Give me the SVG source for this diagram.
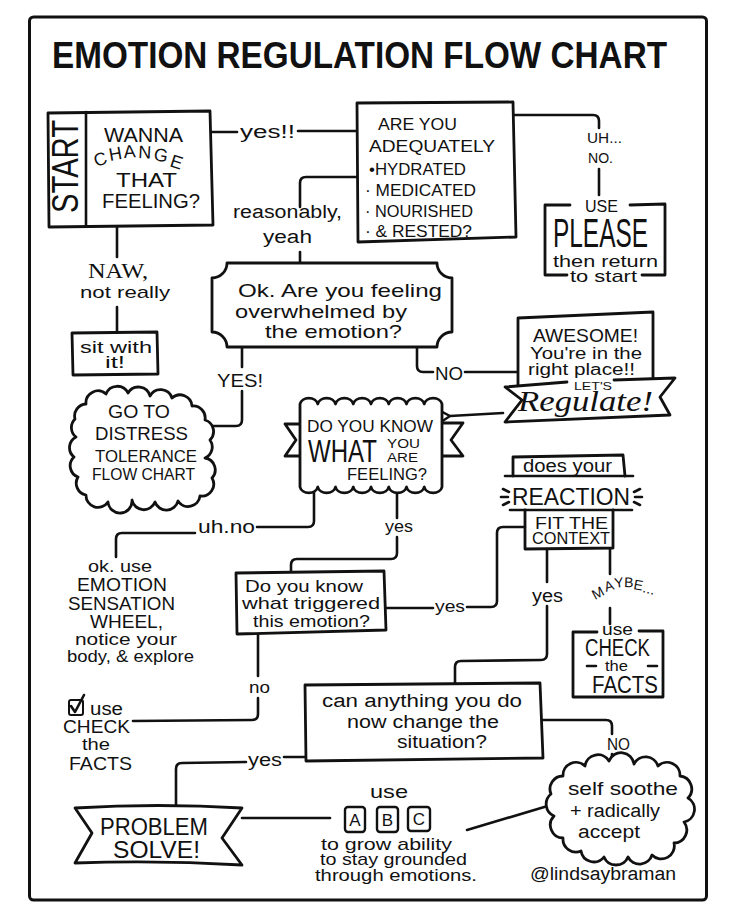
<svg xmlns="http://www.w3.org/2000/svg" width="736" height="911" viewBox="0 0 736 911" font-size="18">
<defs>
<style>
.ln{fill:none;stroke:#111;stroke-width:2.6;stroke-linecap:round;stroke-linejoin:round}
.bx{fill:#fff;stroke:#111;stroke-width:2.8;stroke-linejoin:round;stroke-linecap:round}
.ob{fill:none;stroke:#111;stroke-width:2.8;stroke-linejoin:round;stroke-linecap:round}
text{font-family:"Liberation Sans",Arial,sans-serif;fill:#111}
.s{font-family:"Liberation Serif","Times New Roman",serif}
.sc{font-family:"Liberation Serif","Times New Roman",serif;font-style:italic}
</style>
<marker id="ah" viewBox="0 0 14 14" refX="2" refY="7" markerWidth="14" markerHeight="14" orient="auto" markerUnits="userSpaceOnUse">
<path d="M12,1 L2,7 L12,13" fill="none" stroke="#111" stroke-width="2.4" stroke-linecap="round" stroke-linejoin="round"/>
</marker>
</defs>
<rect x="0" y="0" width="736" height="911" fill="#fff"/>
<rect x="29.5" y="17" width="677" height="883" rx="4" fill="none" stroke="#111" stroke-width="3"/>

<g id="title">
<text x="52" y="68" font-size="37" font-weight="bold" textLength="615" lengthAdjust="spacingAndGlyphs">EMOTION REGULATION FLOW CHART</text>
</g>

<g id="connectors">
<path class="ln" d="M212,132 L237,132"/>
<text x="240" y="138" font-size="18" textLength="55" lengthAdjust="spacingAndGlyphs">yes!!</text>
<path class="ln" d="M298,131 L358,131"/>
<path class="ln" d="M513,115 L593,115 Q599,115 599,121 L599,128"/>
<text x="587" y="143" font-size="15" textLength="35" lengthAdjust="spacingAndGlyphs">UH...</text>
<text x="588" y="163" font-size="15" textLength="25" lengthAdjust="spacingAndGlyphs">NO.</text>
<path class="ln" d="M599,169 L599,195"/>
<path class="ln" d="M358,177 L306,177 Q300,177 300,183 L300,207"/>
<text x="233" y="218" font-size="18" textLength="109" lengthAdjust="spacingAndGlyphs">reasonably,</text>
<text x="263" y="243" font-size="18" textLength="49" lengthAdjust="spacingAndGlyphs">yeah</text>
<path class="ln" d="M300,252 L300,263"/>
<path class="ln" d="M117,226 L117,257"/>
<text class="s" x="88" y="278" font-size="22" textLength="60" lengthAdjust="spacingAndGlyphs">NAW,</text>
<text x="80" y="298" font-size="17" textLength="90" lengthAdjust="spacingAndGlyphs">not really</text>
<path class="ln" d="M117,307 L117,332"/>
<path class="ln" d="M242,347 L242,367"/>
<text x="217" y="387" font-size="19" textLength="46" lengthAdjust="spacingAndGlyphs">YES!</text>
<path class="ln" d="M242,391 L242,420 Q242,426 236,426 L207,426"/>
<path class="ln" d="M417,347 L417,366 Q417,372 423,372 L433,372"/>
<text x="435" y="380" font-size="18" textLength="28" lengthAdjust="spacingAndGlyphs">NO</text>
<path class="ln" d="M465,372 L518,372"/>
<path class="ln" d="M503,413 L450,416" marker-end="url(#ah)"/>
<path class="ln" d="M314,490 L314,521 Q314,527 308,527 L257,527"/>
<text x="198" y="533" font-size="18" textLength="57" lengthAdjust="spacingAndGlyphs">uh.no</text>
<path class="ln" d="M195,533 L122,533 Q116,533 116,539 L116,557"/>
<path class="ln" d="M397,490 L397,518"/>
<text x="385" y="532" font-size="17" textLength="28" lengthAdjust="spacingAndGlyphs">yes</text>
<path class="ln" d="M397,537 L397,553 Q397,559 391,559 L297,559 Q291,559 291,565 L291,572"/>
<path class="ln" d="M385,608 L433,608"/>
<text x="435" y="612" font-size="17" textLength="30" lengthAdjust="spacingAndGlyphs">yes</text>
<path class="ln" d="M467,607 L491,607 Q497,607 497,601 L497,533 Q497,527 503,527 L525,527"/>
<path class="ln" d="M258,633 L258,676"/>
<text x="249" y="693" font-size="17" textLength="21" lengthAdjust="spacingAndGlyphs">no</text>
<path class="ln" d="M258,698 L258,714 Q258,720 252,720 L133,721"/>
<path class="ln" d="M547,549 L547,582"/>
<text x="532" y="602" font-size="18" textLength="31" lengthAdjust="spacingAndGlyphs">yes</text>
<path class="ln" d="M547,606 L547,654 Q547,660 541,660 L461,661 Q455,661 455,667 L455,684"/>
<path class="ln" d="M610,549 L610,574"/>
<text font-size="14" x="595 606 615 624 633 642 646 650" y="600 592 588 587 589 592 593 594" rotate="-28 -18 -8 2 10 14 14 14">MAYBE...</text>
<path class="ln" d="M610,608 L610,624"/>
<path class="ln" d="M305,757 L284,757"/>
<text x="248" y="766" font-size="18" textLength="34" lengthAdjust="spacingAndGlyphs">yes</text>
<path class="ln" d="M246,762 L182,763 Q176,763 176,769 L176,807"/>
<path class="ln" d="M542,720 L606,720 Q612,720 612,726 L612,734"/>
<text x="607" y="750" font-size="16" textLength="23" lengthAdjust="spacingAndGlyphs">NO</text>
<path class="ln" d="M612,754 L612,762"/>
<path class="ln" d="M242,818 L330,818"/>
<path class="ln" d="M467,830 L551,805"/>
</g>

<g id="start">
<path class="bx" d="M48,113 L210,111 L213,225 L49,227 Z"/>
<path class="ln" d="M86,112 L86,226"/>
<text transform="translate(78,166.5) rotate(-90)" x="0" y="0" text-anchor="middle" font-size="36" textLength="93" lengthAdjust="spacingAndGlyphs">START</text>
<text x="104" y="142" font-size="20" textLength="79" lengthAdjust="spacingAndGlyphs">WANNA</text>
<text font-size="18" x="96 110 124 138 153 169" y="167 161 158 158 160 166" rotate="-18 -10 -4 3 10 18">CHANGE</text>
<text x="116" y="187" font-size="20" textLength="61" lengthAdjust="spacingAndGlyphs">THAT</text>
<text x="102" y="208" font-size="20" textLength="98" lengthAdjust="spacingAndGlyphs">FEELING?</text>
</g>

<g id="adequately">
<path class="bx" d="M357,103 L513,102 L516,237 L358,242 Z"/>
<text x="378" y="130" font-size="17" textLength="79" lengthAdjust="spacingAndGlyphs">ARE YOU</text>
<text x="369" y="152" font-size="17" textLength="126" lengthAdjust="spacingAndGlyphs">ADEQUATELY</text>
<text x="369" y="175" font-size="17" textLength="97" lengthAdjust="spacingAndGlyphs">•HYDRATED</text>
<text x="365" y="196" font-size="17" textLength="111" lengthAdjust="spacingAndGlyphs">· MEDICATED</text>
<text x="365" y="217" font-size="17" textLength="108" lengthAdjust="spacingAndGlyphs">· NOURISHED</text>
<text x="365" y="237" font-size="17" textLength="107" lengthAdjust="spacingAndGlyphs">· &amp; RESTED?</text>
</g>

<g id="please">
<path class="ob" d="M570,205 L545,205 L545,275 L567,275"/>
<path class="ob" d="M630,205 L665,204 L665,275 L642,275"/>
<text x="585" y="212" font-size="16" textLength="33" lengthAdjust="spacingAndGlyphs">USE</text>
<text x="553" y="247" font-size="40" textLength="95" lengthAdjust="spacingAndGlyphs">PLEASE</text>
<text x="553" y="267" font-size="17" textLength="105" lengthAdjust="spacingAndGlyphs">then return</text>
<text x="570" y="282" font-size="17" textLength="67" lengthAdjust="spacingAndGlyphs">to start</text>
</g>

<g id="sitwith">
<path class="bx" d="M72,333 L157,332 L158,374 L73,375 Z"/>
<text x="80" y="353" font-size="16" textLength="72" lengthAdjust="spacingAndGlyphs">sit with</text>
<text x="105" y="368" font-size="16" textLength="20" lengthAdjust="spacingAndGlyphs">it!</text>
</g>

<g id="overwhelmed">
<path class="bx" d="M227,263 L437,263 A15,15 0 0 0 452,278 L452,332 A15,15 0 0 0 437,347 L227,347 A15,15 0 0 0 212,332 L212,278 A15,15 0 0 0 227,263 Z"/>
<text x="238" y="297" font-size="19" textLength="204" lengthAdjust="spacingAndGlyphs">Ok. Are you feeling</text>
<text x="235" y="318" font-size="19" textLength="172" lengthAdjust="spacingAndGlyphs">overwhelmed by</text>
<text x="265" y="338" font-size="19" textLength="137" lengthAdjust="spacingAndGlyphs">the emotion?</text>
</g>

<g id="distress">
<path class="bx" d="M86,404 A12,12 0 0 1 106,394 A12,12 0 0 1 128,393 A12,12 0 0 1 150,396 A12,12 0 0 1 172,398 A12,12 0 0 1 192,406 A12,12 0 0 1 205,420 A12,12 0 0 1 210,440 A12,12 0 0 1 205,458 A12,12 0 0 1 212,478 A12,12 0 0 1 200,496 A12,12 0 0 1 178,501 A12,12 0 0 1 155,502 A12,12 0 0 1 132,500 A12,12 0 0 1 108,502 A12,12 0 0 1 86,495 A12,12 0 0 1 78,477 A12,12 0 0 1 74,457 A12,12 0 0 1 76,437 A12,12 0 0 1 75,419 A12,12 0 0 1 86,404 Z"/>
<text x="108" y="418" font-size="19" textLength="62" lengthAdjust="spacingAndGlyphs">GO TO</text>
<text x="95" y="440" font-size="19" textLength="93" lengthAdjust="spacingAndGlyphs">DISTRESS</text>
<text x="95" y="462" font-size="17" textLength="102" lengthAdjust="spacingAndGlyphs">TOLERANCE</text>
<text x="92" y="480" font-size="16" textLength="103" lengthAdjust="spacingAndGlyphs">FLOW CHART</text>
</g>

<g id="awesome">
<path class="bx" d="M518,385 L518,318 L653,312 L653,380"/>
<text x="533" y="342" font-size="19" textLength="105" lengthAdjust="spacingAndGlyphs">AWESOME!</text>
<text x="530" y="359" font-size="16" textLength="112" lengthAdjust="spacingAndGlyphs">You're in the</text>
<text x="528" y="375" font-size="16" textLength="107" lengthAdjust="spacingAndGlyphs">right place!!</text>
<path class="bx" d="M567,382 L505,387 L522,400 L505,422 L670,415 L660,397 L675,378 L614,380"/>
<text x="574" y="390" font-size="10.5" textLength="38" lengthAdjust="spacingAndGlyphs">LET'S</text>
<text class="sc" x="518" y="411" font-size="29" textLength="135" lengthAdjust="spacingAndGlyphs">Regulate!</text>
</g>

<g id="knowfeeling">
<path class="bx" d="M300,424 L285,424 L296,440 L285,456 L300,456"/>
<path class="bx" d="M442,423 L463,423 L451,440 L463,456 L442,456"/>
<path class="bx" d="M300,404 a9,7 0 0 1 17.75,0 a9,7 0 0 1 17.75,0 a9,7 0 0 1 17.75,0 a9,7 0 0 1 17.75,0 a9,7 0 0 1 17.75,0 a9,7 0 0 1 17.75,0 a9,7 0 0 1 17.75,0 a9,7 0 0 1 17.75,0 L442,487 a9,7 0 0 1 -17.75,0 a9,7 0 0 1 -17.75,0 a9,7 0 0 1 -17.75,0 a9,7 0 0 1 -17.75,0 a9,7 0 0 1 -17.75,0 a9,7 0 0 1 -17.75,0 a9,7 0 0 1 -17.75,0 a9,7 0 0 1 -17.75,0 Z"/>
<text x="307" y="432" font-size="17" textLength="126" lengthAdjust="spacingAndGlyphs">DO YOU KNOW</text>
<text x="308" y="462" font-size="31" textLength="69" lengthAdjust="spacingAndGlyphs">WHAT</text>
<text x="387" y="448" font-size="12" textLength="33" lengthAdjust="spacingAndGlyphs">YOU</text>
<text x="387" y="462" font-size="12" textLength="31" lengthAdjust="spacingAndGlyphs">ARE</text>
<text x="347" y="480" font-size="16" textLength="80" lengthAdjust="spacingAndGlyphs">FEELING?</text>
</g>

<g id="reaction">
<path class="ob" d="M513,476 L513,457 L623,455 L625,476"/>
<path class="ln" d="M505,476 L633,476"/>
<text x="523" y="472" font-size="18" textLength="89" lengthAdjust="spacingAndGlyphs">does your</text>
<text x="512" y="505" font-size="24" textLength="118" lengthAdjust="spacingAndGlyphs">REACTION</text>
<path class="ln" d="M503,489 L509,492 M501,497 L508,497 M503,505 L509,502 M634,492 L640,489 M635,497 L642,497 M634,502 L640,505"/>
<path class="ln" d="M510,510 L632,510"/>
<path class="ob" d="M525,510 L525,549 L613,548 L613,510"/>
<text x="535" y="529" font-size="16" textLength="73" lengthAdjust="spacingAndGlyphs">FIT THE</text>
<text x="532" y="544" font-size="16" textLength="78" lengthAdjust="spacingAndGlyphs">CONTEXT</text>
</g>

<g id="wheel">
<text x="88" y="572" font-size="16" textLength="64" lengthAdjust="spacingAndGlyphs">ok. use</text>
<text x="77" y="591" font-size="18" textLength="90" lengthAdjust="spacingAndGlyphs">EMOTION</text>
<text x="68" y="610" font-size="18" textLength="107" lengthAdjust="spacingAndGlyphs">SENSATION</text>
<text x="90" y="628" font-size="18" textLength="73" lengthAdjust="spacingAndGlyphs">WHEEL,</text>
<text x="75" y="645" font-size="16" textLength="102" lengthAdjust="spacingAndGlyphs">notice your</text>
<text x="67" y="662" font-size="16" textLength="127" lengthAdjust="spacingAndGlyphs">body, &amp; explore</text>
</g>

<g id="triggered">
<path class="bx" d="M236,573 L384,571 L386,630 L237,634 Z"/>
<text x="245" y="592" font-size="17" textLength="118" lengthAdjust="spacingAndGlyphs">Do you know</text>
<text x="242" y="609" font-size="17" textLength="138" lengthAdjust="spacingAndGlyphs">what triggered</text>
<text x="253" y="627" font-size="17" textLength="117" lengthAdjust="spacingAndGlyphs">this emotion?</text>
</g>

<g id="checkfacts-left">
<rect x="69" y="700" width="14" height="15" rx="2" fill="none" stroke="#111" stroke-width="2"/>
<path class="ln" d="M71,706 L75,712 L84,695" stroke-width="2"/>
<text x="90" y="715" font-size="18" textLength="33" lengthAdjust="spacingAndGlyphs">use</text>
<text x="63" y="733" font-size="19" textLength="67" lengthAdjust="spacingAndGlyphs">CHECK</text>
<text x="82" y="750" font-size="16" textLength="28" lengthAdjust="spacingAndGlyphs">the</text>
<text x="69" y="770" font-size="19" textLength="63" lengthAdjust="spacingAndGlyphs">FACTS</text>
</g>

<g id="checkfacts-right">
<path class="ob" d="M597,632 L573,632 L573,697 L663,697 L663,631 L639,631"/>
<text x="602" y="635" font-size="17" textLength="31" lengthAdjust="spacingAndGlyphs">use</text>
<text x="585" y="656" font-size="23" textLength="65" lengthAdjust="spacingAndGlyphs">CHECK</text>
<path class="ln" d="M587,666 L596,666 M648,666 L657,666" stroke-width="2"/>
<text x="605" y="671" font-size="15" textLength="23" lengthAdjust="spacingAndGlyphs">the</text>
<text x="592" y="693" font-size="23" textLength="66" lengthAdjust="spacingAndGlyphs">FACTS</text>
</g>

<g id="situation">
<path class="bx" d="M305,685 L540,683 L543,758 L306,761 Z"/>
<text x="322" y="707" font-size="18" textLength="200" lengthAdjust="spacingAndGlyphs">can anything you do</text>
<text x="347" y="728" font-size="18" textLength="152" lengthAdjust="spacingAndGlyphs">now change the</text>
<text x="397" y="748" font-size="18" textLength="90" lengthAdjust="spacingAndGlyphs">situation?</text>
</g>

<g id="problemsolve">
<path class="bx" d="M75,808 Q158,803 242,808 L222,838 L242,865 Q158,860 75,863 L92,833 Z"/>
<text x="100" y="835" font-size="24" textLength="108" lengthAdjust="spacingAndGlyphs">PROBLEM</text>
<text x="113" y="858" font-size="24" textLength="87" lengthAdjust="spacingAndGlyphs">SOLVE!</text>
</g>

<g id="abc">
<text x="370" y="798" font-size="19" textLength="38" lengthAdjust="spacingAndGlyphs">use</text>
<rect x="345" y="807" width="20" height="25" rx="3" fill="#fff" stroke="#111" stroke-width="2.4"/>
<rect x="377" y="807" width="21" height="25" rx="3" fill="#fff" stroke="#111" stroke-width="2.4"/>
<rect x="408" y="807" width="22" height="24" rx="3" fill="#fff" stroke="#111" stroke-width="2.4"/>
<text x="355" y="826" font-size="17" text-anchor="middle">A</text>
<text x="387.5" y="826" font-size="17" text-anchor="middle">B</text>
<text x="419" y="825" font-size="17" text-anchor="middle">C</text>
<text x="321" y="850" font-size="17" textLength="131" lengthAdjust="spacingAndGlyphs">to grow ability</text>
<text x="320" y="865" font-size="17" textLength="147" lengthAdjust="spacingAndGlyphs">to stay grounded</text>
<text x="315" y="881" font-size="17" textLength="162" lengthAdjust="spacingAndGlyphs">through emotions.</text>
</g>

<g id="selfsoothe">
<path class="bx" d="M563,776 A13,13 0 0 1 585,766 A13,13 0 0 1 609,761 A13,13 0 0 1 634,764 A13,13 0 0 1 658,766 A13,13 0 0 1 680,776 A13,13 0 0 1 688,798 A13,13 0 0 1 684,822 A13,13 0 0 1 674,843 A13,13 0 0 1 652,855 A13,13 0 0 1 628,857 A13,13 0 0 1 604,857 A13,13 0 0 1 581,851 A13,13 0 0 1 563,838 A13,13 0 0 1 554,816 A13,13 0 0 1 551,794 A13,13 0 0 1 563,776 Z"/>
<text x="568" y="795" font-size="19" textLength="110" lengthAdjust="spacingAndGlyphs">self soothe</text>
<text x="570" y="817" font-size="18" textLength="90" lengthAdjust="spacingAndGlyphs">+ radically</text>
<text x="578" y="838" font-size="18" textLength="62" lengthAdjust="spacingAndGlyphs">accept</text>
</g>

<g id="credit">
<text x="530" y="880" font-size="18" textLength="146" lengthAdjust="spacingAndGlyphs">@lindsaybraman</text>
</g>
</svg>
